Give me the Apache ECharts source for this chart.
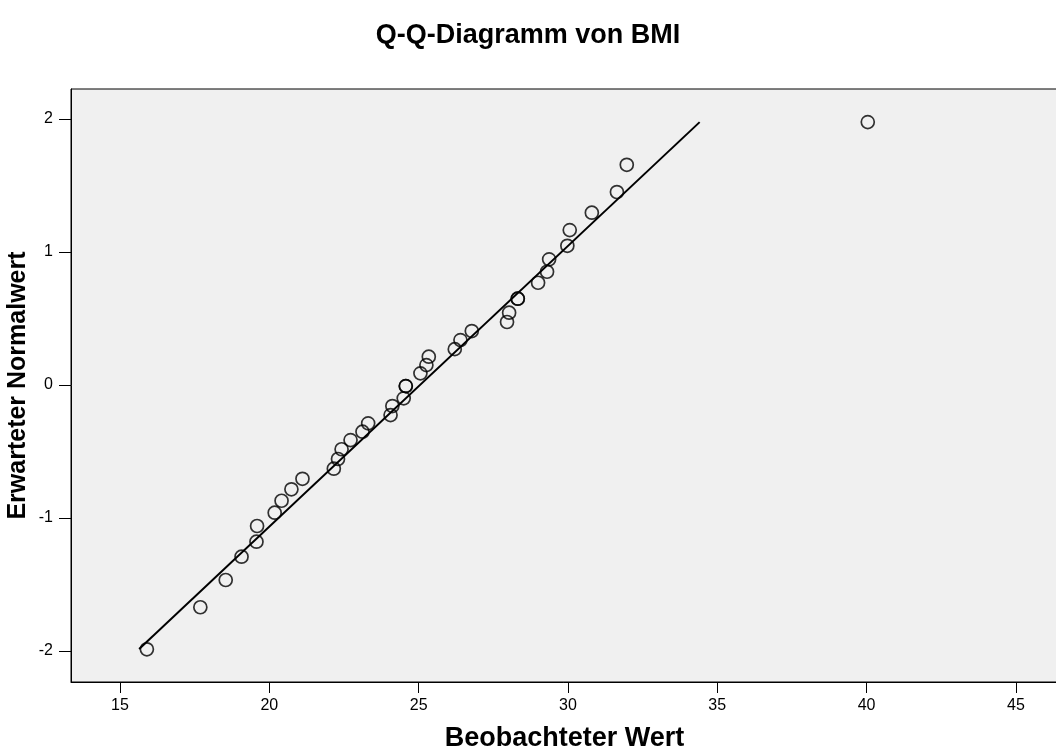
<!DOCTYPE html>
<html>
<head>
<meta charset="utf-8">
<script src="https://cdn.jsdelivr.net/npm/echarts@6/dist/echarts.min.js"></script>
<style>
html,body{margin:0;padding:0;background:#fff;}
#chart{width:1056px;height:751px;}
</style>
</head>
<body>
<div id="chart"></div>
<script>
// Observed BMI values (x) and expected normal values (y)
var observed = [15.90, 17.69, 18.54, 19.07, 19.57, 19.59, 20.18, 20.41, 20.74, 21.11,
  22.16, 22.30, 22.42, 22.72, 23.12, 23.31, 24.06, 24.12, 24.50, 24.57, 24.57,
  25.06, 25.26, 25.34, 26.21, 26.40, 26.78, 27.96, 28.03, 28.32, 28.32,
  29.00, 29.30, 29.37, 29.98, 30.06, 30.80, 31.64, 31.97, 40.04];
var expected = [-1.987, -1.671, -1.466, -1.291, -1.178, -1.060, -0.960, -0.870, -0.784, -0.705,
  -0.629, -0.556, -0.483, -0.414, -0.351, -0.288, -0.226, -0.158, -0.100, -0.008, -0.008,
  0.088, 0.150, 0.213, 0.270, 0.338, 0.406, 0.474, 0.544, 0.649, 0.649,
  0.769, 0.852, 0.945, 1.047, 1.165, 1.296, 1.451, 1.656, 1.977];
// Reference line endpoints
var lineX = [15.64, 34.41];
var lineY = [-1.985, 1.977];
// Tick labels
var xTicks = [15, 20, 25, 30, 35, 40, 45];
var yTicks = [-2, -1, 0, 1, 2];

var points = observed.map(function (v, i) { return [v, expected[i]]; });
var linePts = lineX.map(function (v, i) { return [v, lineY[i]]; });

var chart = echarts.init(document.getElementById('chart'));
var font = '"Liberation Sans", Arial, sans-serif';
chart.setOption({
  backgroundColor: '#ffffff',
  animation: false,
  title: {
    text: 'Q-Q-Diagramm von BMI',
    left: 'center',
    top: 17,
    textStyle: { fontFamily: font, fontSize: 27, fontWeight: 'bold', color: '#000' }
  },
  grid: {
    left: 71, top: 89, right: -2, bottom: 69,
    containLabel: false,
    outerBoundsMode: 'none',
    show: true, backgroundColor: '#f0f0f0', borderColor: '#000', borderWidth: 1
  },
  xAxis: {
    type: 'value',
    min: 13.359, max: 46.41,
    name: 'Beobachteter Wert',
    nameLocation: 'middle',
    nameGap: 43,
    nameMoveOverlap: false,
    nameTextStyle: { fontFamily: font, fontSize: 27, fontWeight: 'bold', color: '#000' },
    splitLine: { show: false },
    axisLine: { show: true, onZero: false, lineStyle: { color: '#000', width: 1 } },
    axisTick: { show: true, inside: false, length: 11, customValues: xTicks, lineStyle: { color: '#000', width: 1 } },
    axisLabel: { customValues: xTicks, fontFamily: font, fontSize: 16, color: '#000', margin: 16 }
  },
  yAxis: {
    type: 'value',
    min: -2.233, max: 2.226,
    name: 'Erwarteter Normalwert',
    nameLocation: 'middle',
    nameGap: 40,
    nameMoveOverlap: false,
    nameTextStyle: { fontFamily: font, fontSize: 25, fontWeight: 'bold', color: '#000' },
    splitLine: { show: false },
    axisLine: { show: true, onZero: false, lineStyle: { color: '#000', width: 1 } },
    axisTick: { show: true, inside: false, length: 12, customValues: yTicks, lineStyle: { color: '#000', width: 1 } },
    axisLabel: { customValues: yTicks, fontFamily: font, fontSize: 16, color: '#000', margin: 18 }
  },
  series: [
    {
      type: 'line',
      data: linePts,
      symbol: 'none',
      lineStyle: { color: '#000', width: 2 },
      z: 2
    },
    {
      type: 'scatter',
      data: points,
      symbol: 'circle',
      symbolSize: 13,
      itemStyle: { color: 'rgba(0,0,0,0)', borderColor: '#000', borderWidth: 1.7 },
      z: 3
    }
  ]
});
</script>
</body>
</html>
